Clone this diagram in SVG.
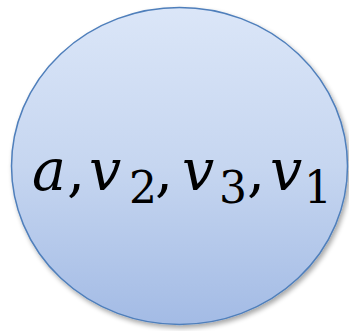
<svg xmlns="http://www.w3.org/2000/svg" width="349" height="331" viewBox="0 0 349 331">
<defs>
<linearGradient id="g" x1="0" y1="0" x2="0" y2="1">
<stop offset="0" stop-color="#dbe6f8"/>
<stop offset="0.5" stop-color="#c6d6f0"/>
<stop offset="1" stop-color="#a3bbe5"/>
</linearGradient>
<filter id="sh" x="-10%" y="-10%" width="125%" height="125%">
<feGaussianBlur in="SourceAlpha" stdDeviation="2.5"/>
<feOffset dx="2" dy="3" result="b"/>
<feComponentTransfer><feFuncA type="linear" slope="0.35"/></feComponentTransfer>
<feMerge><feMergeNode/><feMergeNode in="SourceGraphic"/></feMerge>
</filter>
<style>
.m{font-family:"DejaVu Serif","Liberation Serif",serif;font-size:57px;fill:#000}
.i{font-style:italic}
.s{font-size:44px}
</style>
</defs>
<rect width="349" height="331" fill="#ffffff"/>
<g id="node">
<ellipse cx="179.5" cy="166" rx="168" ry="158.5" fill="url(#g)" stroke="#4f7fbb" stroke-width="1.5" filter="url(#sh)"/>
<text class="m" y="190"><tspan class="i" x="32">a</tspan><tspan x="67">,</tspan><tspan class="i" x="89">v</tspan><tspan class="s" x="129" dy="13">2</tspan><tspan x="155" dy="-13">,</tspan><tspan class="i" x="182">v</tspan><tspan class="s" x="219" dy="13">3</tspan><tspan x="247" dy="-13">,</tspan><tspan class="i" x="270">v</tspan><tspan class="s" x="304" dy="13">1</tspan></text>
</g>
</svg>
